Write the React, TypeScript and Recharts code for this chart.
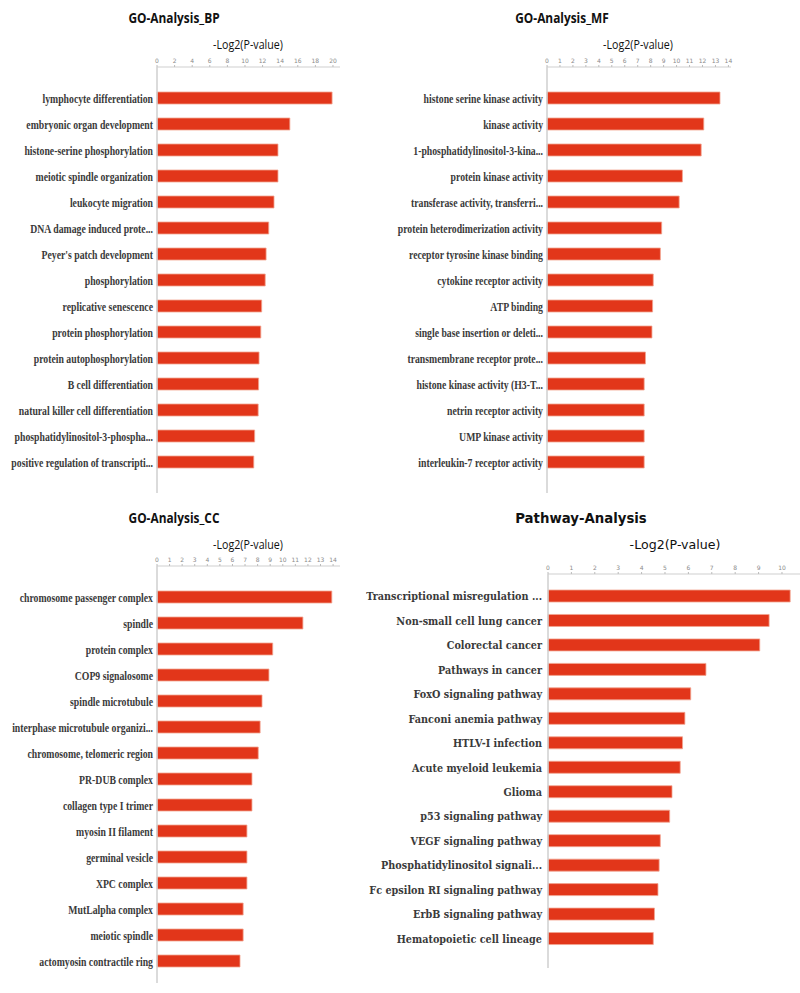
import { Bar, BarChart, XAxis, YAxis } from "recharts";

// GO biological process
const bpTerms = [
  "lymphocyte differentiation",
  "embryonic organ development",
  "histone-serine phosphorylation",
  "meiotic spindle organization",
  "leukocyte migration",
  "DNA damage induced prote...",
  "Peyer's patch development",
  "phosphorylation",
  "replicative senescence",
  "protein phosphorylation",
  "protein autophosphorylation",
  "B cell differentiation",
  "natural killer cell differentiation",
  "phosphatidylinositol-3-phospha...",
  "positive regulation of transcripti...",
];
const bpValues = [19.9, 15.1, 13.75, 13.75, 13.3, 12.7, 12.4, 12.3, 11.9, 11.8, 11.6, 11.55, 11.5, 11.1, 11.0];
const bpTicks = [0, 2, 4, 6, 8, 10, 12, 14, 16, 18, 20];

// GO molecular function
const mfTerms = [
  "histone serine kinase activity",
  "kinase activity",
  "1-phosphatidylinositol-3-kina...",
  "protein kinase activity",
  "transferase activity, transferri...",
  "protein heterodimerization activity",
  "receptor tyrosine kinase binding",
  "cytokine receptor activity",
  "ATP binding",
  "single base insertion or deleti...",
  "transmembrane receptor prote...",
  "histone kinase activity (H3-T...",
  "netrin receptor activity",
  "UMP kinase activity",
  "interleukin-7 receptor activity",
];
const mfValues = [13.35, 12.1, 11.9, 10.45, 10.2, 8.85, 8.75, 8.2, 8.15, 8.1, 7.6, 7.5, 7.5, 7.5, 7.5];
const mfTicks = [0, 1, 2, 3, 4, 5, 6, 7, 8, 9, 10, 11, 12, 13, 14];

// GO cellular component
const ccTerms = [
  "chromosome passenger complex",
  "spindle",
  "protein complex",
  "COP9 signalosome",
  "spindle microtubule",
  "interphase microtubule organizi...",
  "chromosome, telomeric region",
  "PR-DUB complex",
  "collagen type I trimer",
  "myosin II filament",
  "germinal vesicle",
  "XPC complex",
  "MutLalpha complex",
  "meiotic spindle",
  "actomyosin contractile ring",
];
const ccValues = [13.9, 11.6, 9.2, 8.9, 8.35, 8.2, 8.05, 7.55, 7.55, 7.15, 7.15, 7.15, 6.85, 6.85, 6.6];
const ccTicks = [0, 1, 2, 3, 4, 5, 6, 7, 8, 9, 10, 11, 12, 13, 14];

// KEGG pathways
const pwTerms = [
  "Transcriptional misregulation ...",
  "Non-small cell lung cancer",
  "Colorectal cancer",
  "Pathways in cancer",
  "FoxO signaling pathway",
  "Fanconi anemia pathway",
  "HTLV-I infection",
  "Acute myeloid leukemia",
  "Glioma",
  "p53 signaling pathway",
  "VEGF signaling pathway",
  "Phosphatidylinositol signali...",
  "Fc epsilon RI signaling pathway",
  "ErbB signaling pathway",
  "Hematopoietic cell lineage",
];
const pwValues = [10.35, 9.45, 9.05, 6.75, 6.1, 5.85, 5.75, 5.65, 5.3, 5.2, 4.8, 4.75, 4.7, 4.55, 4.5];
const pwTicks = [0, 1, 2, 3, 4, 5, 6, 7, 8, 9, 10];

const toRows = (terms: string[], values: number[]) =>
  terms.map((name, i) => ({ name, value: values[i] }));

const BAR = "#e2361a";
const AXIS = "#cfcfcf";
const LABEL = "#3a3a3a";

// the GO labels are set in a narrow serif, so squeeze them sideways
const GoTick = (props: any) => {
  const { x, y, payload } = props;
  return (
    <g transform={`translate(${x},${y})`}>
      <text
        transform="scale(0.75,1)"
        textAnchor="end"
        dy={4.5}
        fontFamily="Liberation Serif"
        fontWeight="bold"
        fontSize={13}
        fill={LABEL}
      >
        {payload.value}
      </text>
    </g>
  );
};

const PwTick = (props: any) => {
  const { x, y, payload } = props;
  return (
    <g transform={`translate(${x},${y})`}>
      <text
        transform="scale(0.92,1)"
        textAnchor="end"
        dy={4}
        fontFamily="DejaVu Serif"
        fontWeight="bold"
        fontSize={10.5}
        fill={LABEL}
      >
        {payload.value}
      </text>
    </g>
  );
};

interface PanelProps {
  data: { name: string; value: number }[];
  ticks: number[];
  max: number;
  left: number;
  top: number;
  width: number;
  height: number;
  margin: { top: number; right: number; bottom: number; left: number };
  labelWidth: number;
  padTop: number;
  padBottom: number;
  tick: any;
  tickGap: number;
}

function Panel(p: PanelProps) {
  return (
    <div style={{ position: "absolute", left: p.left, top: p.top }}>
      <BarChart width={p.width} height={p.height} data={p.data} layout="vertical" margin={p.margin}>
        <XAxis
          type="number"
          orientation="top"
          domain={[0, p.max]}
          ticks={p.ticks}
          height={20}
          tick={{ fontSize: 6, fill: "#8a8a8a", fontFamily: "DejaVu Sans" }}
          tickSize={2}
          tickMargin={2}
          tickLine={{ stroke: "#bbb" }}
          axisLine={{ stroke: AXIS }}
          interval={0}
        />
        <YAxis
          type="category"
          dataKey="name"
          width={p.labelWidth}
          tick={p.tick}
          tickSize={0}
          tickMargin={p.tickGap}
          tickLine={false}
          axisLine={{ stroke: AXIS, strokeWidth: 1.5 }}
          padding={{ top: p.padTop, bottom: p.padBottom }}
          interval={0}
        />
        <Bar
          dataKey="value"
          fill={BAR}
          stroke="#f3a491"
          strokeWidth={0.8}
          barSize={12}
          isAnimationActive={false}
        />
      </BarChart>
    </div>
  );
}

function Heading({ x, y, text, size, family, weight, sx }: any) {
  return (
    <text
      transform={`translate(${x},${y}) scale(${sx},1)`}
      textAnchor="middle"
      fontFamily={family}
      fontWeight={weight}
      fontSize={size}
      fill="#111"
    >
      {text}
    </text>
  );
}

export default function App() {
  return (
    <div
      style={{
        position: "absolute",
        left: 0,
        top: 0,
        width: 800,
        height: 993,
        background: "#fff",
        overflow: "hidden",
      }}
    >
      <Panel
        data={toRows(bpTerms, bpValues)}
        ticks={bpTicks}
        max={20.8}
        left={0}
        top={0}
        width={400}
        height={500}
        margin={{ top: 47, right: 60, bottom: 7, left: 7 }}
        labelWidth={150}
        padTop={18}
        padBottom={18}
        tick={<GoTick />}
        tickGap={4}
      />
      <Panel
        data={toRows(mfTerms, mfValues)}
        ticks={mfTicks}
        max={14.2}
        left={340}
        top={0}
        width={460}
        height={500}
        margin={{ top: 47, right: 69, bottom: 7, left: 7 }}
        labelWidth={200}
        padTop={18}
        padBottom={18}
        tick={<GoTick />}
        tickGap={4}
      />
      <Panel
        data={toRows(ccTerms, ccValues)}
        ticks={ccTicks}
        max={14.55}
        left={0}
        top={500}
        width={400}
        height={493}
        margin={{ top: 46, right: 60, bottom: 10, left: 7 }}
        labelWidth={150}
        padTop={18}
        padBottom={9}
        tick={<GoTick />}
        tickGap={4}
      />
      <Panel
        data={toRows(pwTerms, pwValues)}
        ticks={pwTicks}
        max={10.77}
        left={340}
        top={500}
        width={460}
        height={493}
        margin={{ top: 54, right: 0, bottom: 25, left: 7 }}
        labelWidth={201}
        padTop={10}
        padBottom={17}
        tick={<PwTick />}
        tickGap={6}
      />
      <svg
        width={800}
        height={993}
        style={{ position: "absolute", left: 0, top: 0, pointerEvents: "none" }}
      >
        <Heading x={174} y={23} text="GO-Analysis_BP" size={14.5} family="Open Sans" weight="bold" sx={0.82} />
        <Heading x={248} y={49} text="-Log2(P-value)" size={13} family="Open Sans" weight="normal" sx={0.82} />
        <Heading x={562} y={23} text="GO-Analysis_MF" size={14.5} family="Open Sans" weight="bold" sx={0.82} />
        <Heading x={638} y={49} text="-Log2(P-value)" size={13} family="Open Sans" weight="normal" sx={0.82} />
        <Heading x={174} y={523} text="GO-Analysis_CC" size={14.5} family="Open Sans" weight="bold" sx={0.82} />
        <Heading x={248} y={549} text="-Log2(P-value)" size={13} family="Open Sans" weight="normal" sx={0.82} />
        <Heading x={581} y={523} text="Pathway-Analysis" size={13.3} family="DejaVu Sans" weight="bold" sx={1} />
        <Heading x={675} y={549} text="-Log2(P-value)" size={12.6} family="DejaVu Sans" weight="normal" sx={1} />
      </svg>
    </div>
  );
}
